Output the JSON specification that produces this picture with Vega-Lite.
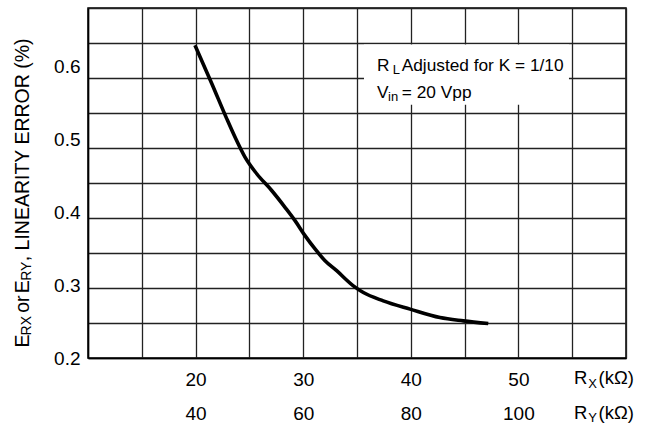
{
  "$schema": "https://vega.github.io/schema/vega-lite/v6.json",
  "width": 538,
  "height": 350,
  "autosize": "none",
  "padding": {"left": 88, "top": 8, "right": 22, "bottom": 69},
  "background": "white",
  "config": {
    "view": {"stroke": "#000", "strokeWidth": 1.5},
    "font": "Liberation Sans",
    "axis": {"gridColor": "#222", "gridWidth": 1.3, "gridOpacity": 1, "domainColor": "#000", "domainWidth": 1.5, "labelColor": "#000", "labelFont": "Liberation Sans Narrow, Liberation Sans"}
  },
  "datasets": {
    "curve": [
      {"x": 19.94, "y": 0.629},
      {"x": 21.5, "y": 0.5765},
      {"x": 22.89, "y": 0.5283},
      {"x": 23.66, "y": 0.503},
      {"x": 24.59, "y": 0.4755},
      {"x": 25.68, "y": 0.4527},
      {"x": 27.07, "y": 0.4297},
      {"x": 28.31, "y": 0.4067},
      {"x": 29.24, "y": 0.3884},
      {"x": 30.17, "y": 0.3678},
      {"x": 31.1, "y": 0.3495},
      {"x": 32.03, "y": 0.3334},
      {"x": 33.11, "y": 0.3197},
      {"x": 34.66, "y": 0.299},
      {"x": 35.59, "y": 0.2898},
      {"x": 37.44, "y": 0.2784},
      {"x": 39.93, "y": 0.267},
      {"x": 42.71, "y": 0.2554},
      {"x": 44.88, "y": 0.2509},
      {"x": 47.2, "y": 0.2472}
    ],
    "box": [{"x": 35.65, "x2": 54.7, "y": 0.5473, "y2": 0.6299}],
    "notes": [
      {"x": 36.86, "y": 0.594, "text": "R"},
      {"x": 39.15, "y": 0.594, "text": "Adjusted for K = 1/10"},
      {"x": 36.86, "y": 0.557, "text": "V"},
      {"x": 39.17, "y": 0.557, "text": "= 20 Vpp"}
    ],
    "units": [
      {"x": 55.17, "y": 0.1649, "text": "R"},
      {"x": 57.45, "y": 0.1649, "text": "(kΩ)"},
      {"x": 55.17, "y": 0.1164, "text": "R"},
      {"x": 57.45, "y": 0.1164, "text": "(kΩ)"}
    ],
    "subs": [
      {"x": 38.32, "y": 0.5896, "text": "L"},
      {"x": 37.88, "y": 0.5519, "text": "in"},
      {"x": 56.5, "y": 0.159, "text": "X"},
      {"x": 56.5, "y": 0.1117, "text": "Y"}
    ],
    "title": [
      {"x": 4.54, "y": 0.2144, "text": "E"},
      {"x": 4.54, "y": 0.2619, "text": "or"},
      {"x": 4.54, "y": 0.2887, "text": "E"},
      {"x": 4.54, "y": 0.3327, "text": ", LINEARITY ERROR (%)"}
    ],
    "titleSubs": [
      {"x": 4.675, "y": 0.2309, "text": "RX"},
      {"x": 4.675, "y": 0.3059, "text": "RY"}
    ]
  },
  "layer": [
    {
      "data": {"name": "box"},
      "mark": {"type": "rect", "color": "white", "stroke": null},
      "encoding": {
        "x": {"field": "x", "type": "quantitative", "scale": {"domain": [10, 60], "nice": false, "zero": false}, "axis": null},
        "x2": {"field": "x2"},
        "y": {
          "field": "y", "type": "quantitative",
          "scale": {"domain": [0.2, 0.68], "nice": false, "zero": false},
          "axis": {"orient": "left", "values": [0.2, 0.3, 0.4, 0.5, 0.6], "grid": false, "ticks": false, "domain": false, "labelPadding": 8, "labelFontSize": 19, "labelBaseline": "middle", "labelOverlap": false, "labelBound": false, "labelFlush": false, "title": null, "format": ".1f"}
        },
        "y2": {"field": "y2"}
      }
    },
    {
      "data": {"name": "curve"},
      "mark": {"type": "line", "interpolate": "monotone", "strokeWidth": 3.6, "color": "#000", "strokeCap": "butt"},
      "encoding": {
        "x": {
          "field": "x", "type": "quantitative",
          "scale": {"domain": [10, 60], "nice": false, "zero": false},
          "axis": {"orient": "bottom", "values": [10, 15, 20, 25, 30, 35, 40, 45, 50, 55, 60], "grid": true, "ticks": false, "domain": true, "labelExpr": "indexof([20, 30, 40, 50], datum.value) >= 0 ? [datum.label, format(datum.value * 2, 'd')] : ''", "labelFontSize": 19, "labelPadding": 12, "labelLineHeight": 34, "labelOverlap": false, "labelBound": false, "labelFlush": false, "title": null}
        },
        "y": {
          "field": "y", "type": "quantitative",
          "scale": {"domain": [0.2, 0.68], "nice": false, "zero": false},
          "axis": {"orient": "left", "values": [0.2, 0.248, 0.296, 0.344, 0.392, 0.44, 0.488, 0.536, 0.584, 0.632, 0.68], "grid": true, "labels": false, "ticks": false, "domain": true, "title": null}
        }
      }
    },
    {
      "data": {"name": "notes"},
      "mark": {"type": "text", "align": "left", "baseline": "alphabetic", "fontSize": 17.3, "font": "Liberation Sans", "color": "#000"},
      "encoding": {
        "x": {"field": "x", "type": "quantitative", "scale": {"domain": [10, 60], "nice": false, "zero": false}, "axis": null},
        "y": {"field": "y", "type": "quantitative", "scale": {"domain": [0.2, 0.68], "nice": false, "zero": false}, "axis": null},
        "text": {"field": "text"}
      }
    },
    {
      "data": {"name": "units"},
      "mark": {"type": "text", "align": "left", "baseline": "alphabetic", "fontSize": 18.5, "font": "Liberation Sans", "color": "#000"},
      "encoding": {
        "x": {"field": "x", "type": "quantitative", "scale": {"domain": [10, 60], "nice": false, "zero": false}, "axis": null},
        "y": {"field": "y", "type": "quantitative", "scale": {"domain": [0.2, 0.68], "nice": false, "zero": false}, "axis": null},
        "text": {"field": "text"}
      }
    },
    {
      "data": {"name": "subs"},
      "mark": {"type": "text", "align": "left", "baseline": "alphabetic", "fontSize": 13, "font": "Liberation Sans", "color": "#000"},
      "encoding": {
        "x": {"field": "x", "type": "quantitative", "scale": {"domain": [10, 60], "nice": false, "zero": false}, "axis": null},
        "y": {"field": "y", "type": "quantitative", "scale": {"domain": [0.2, 0.68], "nice": false, "zero": false}, "axis": null},
        "text": {"field": "text"}
      }
    },
    {
      "data": {"name": "title"},
      "mark": {"type": "text", "align": "left", "baseline": "alphabetic", "angle": 270, "fontSize": 19.5, "font": "Liberation Sans", "color": "#000"},
      "encoding": {
        "x": {"field": "x", "type": "quantitative", "scale": {"domain": [10, 60], "nice": false, "zero": false}, "axis": null},
        "y": {"field": "y", "type": "quantitative", "scale": {"domain": [0.2, 0.68], "nice": false, "zero": false}, "axis": null},
        "text": {"field": "text"}
      }
    },
    {
      "data": {"name": "titleSubs"},
      "mark": {"type": "text", "align": "left", "baseline": "alphabetic", "angle": 270, "fontSize": 14, "font": "Liberation Sans", "color": "#000"},
      "encoding": {
        "x": {"field": "x", "type": "quantitative", "scale": {"domain": [10, 60], "nice": false, "zero": false}, "axis": null},
        "y": {"field": "y", "type": "quantitative", "scale": {"domain": [0.2, 0.68], "nice": false, "zero": false}, "axis": null},
        "text": {"field": "text"}
      }
    }
  ],
  "resolve": {"axis": {"x": "independent", "y": "independent"}}
}
